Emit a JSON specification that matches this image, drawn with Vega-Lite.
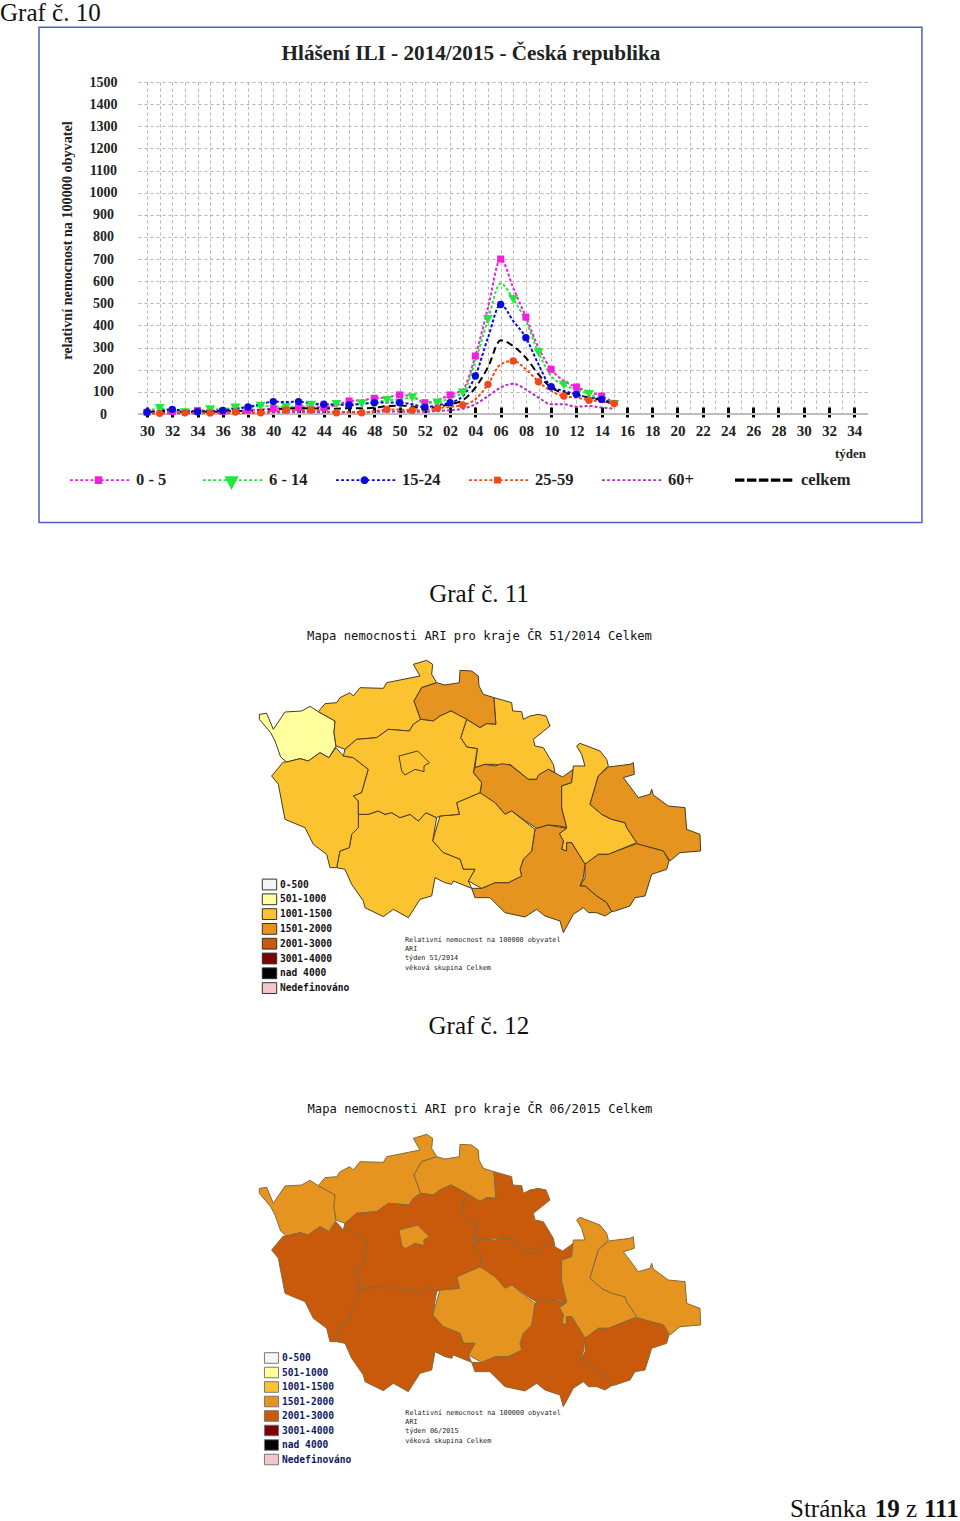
{"$schema":"https://vega.github.io/schema/vega-lite/v6.json","background":"white","padding":0,"spacing":0,"bounds":"flush","config":{"view":{"stroke":null}},"resolve":{"scale":{"color":"independent"},"legend":{"color":"independent"}},
"datasets":{"kraje":[
{"type":"Feature","properties":{"kraj":"Karlovarský","m1":"501-1000","m2":"1501-2000"},"geometry":{"type":"Polygon","coordinates":[[[28,190],[50,187],[70,235],[105,183],[155,180],[180,166],[205,182],[255,210],[252,245],[258,285],[237,320],[210,305],[175,330],[150,323],[110,333],[92,318],[75,270],[62,245],[28,205],[28,190]]]}},
{"type":"Feature","properties":{"kraj":"Ústecký","m1":"1001-1500","m2":"1501-2000"},"geometry":{"type":"Polygon","coordinates":[[[205,182],[225,158],[260,155],[270,140],[300,125],[310,135],[330,110],[400,112],[410,95],[510,75],[490,40],[530,28],[548,40],[545,70],[560,95],[515,110],[492,150],[512,205],[490,220],[478,240],[415,235],[380,260],[320,265],[285,295],[258,285],[252,245],[255,210],[205,182]]]}},
{"type":"Feature","properties":{"kraj":"Liberecký","m1":"1501-2000","m2":"1501-2000"},"geometry":{"type":"Polygon","coordinates":[[[492,150],[515,110],[560,95],[585,102],[628,95],[630,58],[665,60],[685,75],[687,105],[700,130],[732,140],[738,220],[710,218],[690,230],[650,205],[603,180],[570,195],[550,210],[512,205],[492,150]]]}},
{"type":"Feature","properties":{"kraj":"Královéhradecký","m1":"1001-1500","m2":"2001-3000"},"geometry":{"type":"Polygon","coordinates":[[[732,140],[785,155],[788,180],[815,182],[820,205],[840,195],[865,190],[888,195],[900,225],[850,265],[855,285],[880,290],[910,340],[915,365],[895,355],[865,375],[860,385],[835,385],[780,340],[755,345],[735,340],[705,340],[675,350],[682,293],[650,288],[632,260],[650,205],[690,230],[710,218],[738,220],[732,140]]]}},
{"type":"Feature","properties":{"kraj":"Pardubický","m1":"1501-2000","m2":"2001-3000"},"geometry":{"type":"Polygon","coordinates":[[[675,350],[705,340],[735,345],[755,338],[780,342],[835,385],[860,385],[865,372],[895,355],[938,378],[970,355],[965,395],[935,405],[935,470],[950,530],[928,525],[895,522],[860,532],[820,505],[785,480],[765,490],[735,455],[690,430],[695,395],[670,365],[675,350]]]}},
{"type":"Feature","properties":{"kraj":"Olomoucký","m1":"1001-1500","m2":"1501-2000"},"geometry":{"type":"Polygon","coordinates":[[[980,285],[990,277],[1050,300],[1070,325],[1075,345],[1045,375],[1020,460],[1055,490],[1085,505],[1125,515],[1130,530],[1160,575],[1100,600],[1075,610],[1045,610],[1005,640],[965,575],[950,575],[950,600],[935,595],[940,570],[928,548],[950,530],[935,470],[935,405],[965,395],[970,345],[1005,345],[995,310],[980,285]]]}},
{"type":"Feature","properties":{"kraj":"Moravskoslezský","m1":"1501-2000","m2":"1501-2000"},"geometry":{"type":"Polygon","coordinates":[[[1075,348],[1140,340],[1150,335],[1153,370],[1120,380],[1165,440],[1200,430],[1205,415],[1210,432],[1255,465],[1305,470],[1310,535],[1350,550],[1352,600],[1290,605],[1260,630],[1240,600],[1165,580],[1160,575],[1130,530],[1125,515],[1085,505],[1055,490],[1020,460],[1045,375],[1075,348]]]}},
{"type":"Feature","properties":{"kraj":"Zlínský","m1":"1501-2000","m2":"2001-3000"},"geometry":{"type":"Polygon","coordinates":[[[1005,640],[1045,610],[1075,610],[1100,600],[1160,578],[1240,600],[1257,630],[1250,655],[1205,670],[1185,735],[1155,740],[1140,765],[1095,780],[1085,782],[1070,755],[1040,735],[1005,705],[990,705],[1005,680],[1005,640]]]}},
{"type":"Feature","properties":{"kraj":"Jihomoravský","m1":"1501-2000","m2":"2001-3000"},"geometry":{"type":"Polygon","coordinates":[[[860,532],[895,522],[928,528],[950,532],[928,548],[940,570],[935,595],[950,600],[950,575],[965,575],[1005,640],[1000,680],[990,705],[1005,705],[1040,735],[1070,755],[1085,782],[1065,795],[1040,785],[1015,785],[1000,770],[970,790],[940,845],[930,810],[885,795],[860,775],[825,798],[765,785],[720,740],[675,740],[665,712],[695,712],[735,695],[775,695],[815,675],[810,655],[820,625],[845,600],[855,535],[860,532]]]}},
{"type":"Feature","properties":{"kraj":"Vysočina","m1":"1001-1500","m2":"1501-2000"},"geometry":{"type":"Polygon","coordinates":[[[690,425],[735,455],[765,490],[785,480],[855,535],[845,600],[820,625],[810,655],[815,675],[775,695],[735,695],[695,712],[655,690],[675,655],[640,655],[630,625],[580,605],[548,570],[570,495],[628,490],[620,455],[690,425]]]}},
{"type":"Feature","properties":{"kraj":"Jihočeský","m1":"1001-1500","m2":"2001-3000"},"geometry":{"type":"Polygon","coordinates":[[[325,490],[355,490],[385,480],[405,490],[425,485],[450,500],[480,490],[505,510],[528,485],[560,500],[548,570],[580,605],[630,625],[640,655],[675,655],[655,690],[665,712],[610,690],[605,700],[585,695],[555,680],[545,735],[510,745],[475,800],[430,775],[400,797],[345,770],[340,750],[305,700],[285,655],[260,650],[270,600],[298,590],[305,550],[325,530],[325,490]]]}},
{"type":"Feature","properties":{"kraj":"Plzeňský","m1":"1001-1500","m2":"2001-3000"},"geometry":{"type":"Polygon","coordinates":[[[65,375],[100,333],[110,333],[150,323],[175,330],[210,305],[237,320],[258,290],[280,315],[310,320],[355,355],[335,425],[310,435],[325,450],[325,530],[305,550],[298,590],[270,600],[260,650],[240,650],[230,610],[190,580],[165,530],[105,505],[85,400],[65,375]]]}},
{"type":"Feature","properties":{"kraj":"Středočeský","m1":"1001-1500","m2":"2001-3000"},"geometry":{"type":"Polygon","coordinates":[[[285,295],[320,265],[380,260],[415,235],[478,240],[490,220],[512,205],[550,210],[570,195],[603,180],[650,205],[632,260],[650,288],[682,293],[670,365],[695,395],[690,425],[620,455],[628,490],[570,495],[560,500],[528,485],[505,510],[480,490],[450,500],[425,485],[405,490],[385,480],[355,490],[325,490],[325,450],[310,435],[335,425],[355,355],[310,320],[280,315],[285,295]]]}},
{"type":"Feature","properties":{"kraj":"Praha","m1":"1001-1500","m2":"1501-2000"},"geometry":{"type":"Polygon","coordinates":[[[447,315],[503,300],[538,335],[522,345],[522,362],[495,355],[465,372],[455,360],[447,315]]]}}
]},
"vconcat":[
{"width":730,"height":332,
"encoding":{
"x":{"field":"t","type":"quantitative","scale":{"domain":[-0.713,57.09],"nice":false,"zero":false},
"axis":{"values":[0,1,2,3,4,5,6,7,8,9,10,11,12,13,14,15,16,17,18,19,20,21,22,23,24,25,26,27,28,29,30,31,32,33,34,35,36,37,38,39,40,41,42,43,44,45,46,47,48,49,50,51,52,53,54,55,56],"offset":-7,"grid":true,"gridDash":[3,3],"gridColor":"#b5b5b5","domain":false,"tickColor":"#000","tickWidth":3,"tickSize":10,"tickOpacity":{"condition":{"test":"datum.value%2==0","value":1},"value":0},"labelExpr":"datum.value%2==1?'':format(datum.value+30>52?datum.value-22:datum.value+30,'02d')","labelFont":"Liberation Serif","labelFontSize":15,"labelFontWeight":"bold","labelColor":"#222","labelPadding":6,"labelOverlap":false,"labelFlush":false,"labelBound":false,"title":"týden","titleFont":"Liberation Serif","titleFontSize":13,"titleFontWeight":"bold","titleColor":"#222","titleX":712,"titleY":40}},
"y":{"field":"value","type":"quantitative","scale":{"domain":[0,1500],"nice":false,"zero":false},
"axis":{"values":[0,100,200,300,400,500,600,700,800,900,1000,1100,1200,1300,1400,1500],"format":"d","grid":true,"gridDash":[3,3],"gridColor":"#b5b5b5","domain":false,"ticks":false,"labelFont":"Liberation Serif","labelFontSize":14,"labelFontWeight":"bold","labelColor":"#222","labelAlign":"center","labelPadding":35,"labelOverlap":false,"labelFlush":false,"labelBound":false,"title":"relativní nemocnost na 100000 obyvatel","titleFont":"Liberation Serif","titleFontSize":14.2,"titleFontWeight":"bold","titleColor":"#222","titleX":-71,"titleY":158,"titleAngle":-90,"titleAlign":"center","titleBaseline":"middle"}}},
"layer":[
{"data":{"values":[{"t":-8.55,"t2":61.36,"value":1747,"value2":-490}]},"mark":{"type":"rect","filled":false,"stroke":"#4a5fc8","strokeWidth":1.5},"encoding":{"x2":{"field":"t2"},"y2":{"field":"value2"}}},
{"data":{"values":[{"value":0}]},"mark":{"type":"rule","color":"#bdbdbd","strokeWidth":2},"encoding":{"x":null,"y":{"field":"value","type":"quantitative"}}},
{"data":{"values":[{"t":-11.64,"value":1866,"label":"Graf č. 10"}]},"mark":{"type":"text","font":"Liberation Serif","fontSize":25,"align":"left","baseline":"top","color":"#111"},"encoding":{"text":{"field":"label"}}},
{"data":{"values":[{"t":25.65,"value":1627,"label":"Hlášení ILI - 2014/2015 - Česká republika"}]},"mark":{"type":"text","font":"Liberation Serif","fontSize":21.2,"fontWeight":"bold","align":"center","baseline":"middle","color":"#222"},"encoding":{"text":{"field":"label"}}},
{"data":{"name":"ili","values":[
{"t":0,"0 - 5":8,"6 - 14":10,"15-24":8,"25-59":4,"60+":2,"celkem":10},
{"t":1,"0 - 5":10,"6 - 14":26,"15-24":14,"25-59":3,"60+":3,"celkem":10},
{"t":2,"0 - 5":12,"6 - 14":15,"15-24":21,"25-59":5,"60+":3,"celkem":11},
{"t":3,"0 - 5":13,"6 - 14":6,"15-24":15,"25-59":6,"60+":3,"celkem":10},
{"t":4,"0 - 5":15,"6 - 14":14,"15-24":10,"25-59":6,"60+":4,"celkem":11},
{"t":5,"0 - 5":14,"6 - 14":20,"15-24":12,"25-59":5,"60+":4,"celkem":10},
{"t":6,"0 - 5":12,"6 - 14":22,"15-24":16,"25-59":7,"60+":4,"celkem":11},
{"t":7,"0 - 5":14,"6 - 14":28,"15-24":24,"25-59":9,"60+":5,"celkem":13},
{"t":8,"0 - 5":18,"6 - 14":30,"15-24":32,"25-59":8,"60+":5,"celkem":14},
{"t":9,"0 - 5":20,"6 - 14":36,"15-24":44,"25-59":6,"60+":6,"celkem":17},
{"t":10,"0 - 5":24,"6 - 14":34,"15-24":56,"25-59":12,"60+":8,"celkem":21},
{"t":11,"0 - 5":28,"6 - 14":30,"15-24":54,"25-59":18,"60+":8,"celkem":24},
{"t":12,"0 - 5":30,"6 - 14":36,"15-24":56,"25-59":18,"60+":9,"celkem":26},
{"t":13,"0 - 5":30,"6 - 14":40,"15-24":48,"25-59":18,"60+":9,"celkem":25},
{"t":14,"0 - 5":30,"6 - 14":42,"15-24":44,"25-59":14,"60+":8,"celkem":25},
{"t":15,"0 - 5":40,"6 - 14":44,"15-24":42,"25-59":6,"60+":9,"celkem":24},
{"t":16,"0 - 5":59,"6 - 14":44,"15-24":41,"25-59":8,"60+":9,"celkem":26},
{"t":17,"0 - 5":62,"6 - 14":46,"15-24":46,"25-59":6,"60+":9,"celkem":26},
{"t":18,"0 - 5":71,"6 - 14":52,"15-24":51,"25-59":12,"60+":10,"celkem":28},
{"t":19,"0 - 5":74,"6 - 14":62,"15-24":52,"25-59":21,"60+":11,"celkem":36},
{"t":20,"0 - 5":86,"6 - 14":66,"15-24":51,"25-59":20,"60+":11,"celkem":38},
{"t":21,"0 - 5":80,"6 - 14":74,"15-24":44,"25-59":17,"60+":10,"celkem":34},
{"t":22,"0 - 5":51,"6 - 14":50,"15-24":30,"25-59":18,"60+":10,"celkem":21},
{"t":23,"0 - 5":64,"6 - 14":51,"15-24":40,"25-59":26,"60+":14,"celkem":33},
{"t":24,"0 - 5":86,"6 - 14":74,"15-24":51,"25-59":32,"60+":17,"celkem":44},
{"t":25,"0 - 5":111,"6 - 14":96,"15-24":81,"25-59":41,"60+":24,"celkem":62},
{"t":26,"0 - 5":262,"6 - 14":240,"15-24":172,"25-59":66,"60+":44,"celkem":119},
{"t":27,"0 - 5":480,"6 - 14":428,"15-24":345,"25-59":134,"60+":81,"celkem":212},
{"t":28,"0 - 5":700,"6 - 14":590,"15-24":495,"25-59":224,"60+":119,"celkem":333},
{"t":29,"0 - 5":570,"6 - 14":518,"15-24":420,"25-59":240,"60+":137,"celkem":307},
{"t":30,"0 - 5":438,"6 - 14":420,"15-24":345,"25-59":202,"60+":111,"celkem":254},
{"t":31,"0 - 5":300,"6 - 14":277,"15-24":224,"25-59":146,"60+":74,"celkem":179},
{"t":32,"0 - 5":202,"6 - 14":172,"15-24":123,"25-59":104,"60+":44,"celkem":119},
{"t":33,"0 - 5":150,"6 - 14":131,"15-24":104,"25-59":81,"60+":44,"celkem":96},
{"t":34,"0 - 5":122,"6 - 14":111,"15-24":89,"25-59":74,"60+":33,"celkem":86},
{"t":35,"0 - 5":100,"6 - 14":89,"15-24":74,"25-59":62,"60+":36,"celkem":74},
{"t":36,"0 - 5":81,"6 - 14":66,"15-24":66,"25-59":56,"60+":29,"celkem":62},
{"t":37,"0 - 5":51,"6 - 14":44,"15-24":44,"25-59":48,"60+":24,"celkem":44}
]},
"transform":[{"fold":["0 - 5","6 - 14","15-24","60+","celkem","25-59"],"as":["series","value"]}],
"layer":[
{"mark":{"type":"line","interpolate":"monotone"},"encoding":{
"color":{"field":"series","type":"nominal","scale":{"domain":["0 - 5","6 - 14","15-24","25-59","60+","celkem"],"range":["#F020E0","#22E83A","#0A0ADC","#F0481A","#B030C0","#000000"]},
"legend":{"title":null,"orient":"none","legendX":-68,"legendY":369.5,"direction":"horizontal","columns":6,"gridAlign":"all","columnPadding":17,"symbolSize":3249,"labelOffset":9,"labelFont":"Liberation Serif","labelFontSize":16.5,"labelFontWeight":"bold","labelColor":"#222",
"encode":{"symbols":{"update":{
"fill":{"signal":"{'0 - 5':'#F020E0','6 - 14':'#22E83A','15-24':'#0A0ADC','25-59':'#F0481A','60+':'#B030C0','celkem':'#000000'}[datum.value]"},
"stroke":{"value":"transparent"},"strokeWidth":{"value":0},"strokeOpacity":{"value":0},"strokeDash":{"value":[]},
"shape":{"signal":"{'0 - 5':'M-1,-.035h.1v.07h-.1zm.18,0h.1v.07h-.1zm.18,0h.1v.07h-.1zm.18,0h.1v.07h-.1zm.18,0h.1v.07h-.1zm.18,0h.1v.07h-.1zm.18,0h.1v.07h-.1zm.18,0h.1v.07h-.1zm.18,0h.1v.07h-.1zm.18,0h.1v.07h-.1zm.18,0h.1v.07h-.1zm.18,0h.1v.07h-.1zM-.13,-.14h.26v.28h-.26zM0,-.5l0,1z','6 - 14':'M-1,-.035h.1v.07h-.1zm.18,0h.1v.07h-.1zm.18,0h.1v.07h-.1zm.18,0h.1v.07h-.1zm.18,0h.1v.07h-.1zm.18,0h.1v.07h-.1zm.18,0h.1v.07h-.1zm.18,0h.1v.07h-.1zm.18,0h.1v.07h-.1zm.18,0h.1v.07h-.1zm.18,0h.1v.07h-.1zm.18,0h.1v.07h-.1zM-.25,-.14h.5l-.25,.49zM0,-.5l0,1z','15-24':'M-1,-.035h.1v.07h-.1zm.18,0h.1v.07h-.1zm.18,0h.1v.07h-.1zm.18,0h.1v.07h-.1zm.18,0h.1v.07h-.1zm.18,0h.1v.07h-.1zm.18,0h.1v.07h-.1zm.18,0h.1v.07h-.1zm.18,0h.1v.07h-.1zm.18,0h.1v.07h-.1zm.18,0h.1v.07h-.1zm.18,0h.1v.07h-.1zM-.14,0a.14,.14 0 1,1 .28,0a.14,.14 0 1,1 -.28,0zM0,-.5l0,1z','25-59':'M-1,-.035h.1v.07h-.1zm.18,0h.1v.07h-.1zm.18,0h.1v.07h-.1zm.18,0h.1v.07h-.1zm.18,0h.1v.07h-.1zm.18,0h.1v.07h-.1zm.18,0h.1v.07h-.1zm.18,0h.1v.07h-.1zm.18,0h.1v.07h-.1zm.18,0h.1v.07h-.1zm.18,0h.1v.07h-.1zm.18,0h.1v.07h-.1zM-.12,-.12h.24v.24h-.24zM0,-.5l0,1z','60+':'M-1,-.035h.1v.07h-.1zm.18,0h.1v.07h-.1zm.18,0h.1v.07h-.1zm.18,0h.1v.07h-.1zm.18,0h.1v.07h-.1zm.18,0h.1v.07h-.1zm.18,0h.1v.07h-.1zm.18,0h.1v.07h-.1zm.18,0h.1v.07h-.1zm.18,0h.1v.07h-.1zm.18,0h.1v.07h-.1zm.18,0h.1v.07h-.1zM0,-.5l0,1z','celkem':'M-1,-.055h.33v.11h-.33zm.42,0h.33v.11h-.33zm.42,0h.33v.11h-.33zm.42,0h.33v.11h-.33zm.42,0h.33v.11h-.33zM0,-.5l0,1z'}[datum.value]"}
}}}}},
"strokeDash":{"field":"series","type":"nominal","scale":{"domain":["0 - 5","6 - 14","15-24","25-59","60+","celkem"],"range":[[3,2],[3,2],[3,2],[3,2],[3,2],[7,4]]},"legend":null},
"strokeWidth":{"field":"series","type":"nominal","scale":{"domain":["0 - 5","6 - 14","15-24","25-59","60+","celkem"],"range":[2,2,2,2,2,3.4]},"legend":null}
}},
{"transform":[{"filter":"datum.series=='0 - 5'&&datum.t%2==0"}],"mark":{"type":"point","shape":"square","filled":true,"opacity":1,"size":50},"encoding":{"color":{"field":"series","type":"nominal","legend":null}}},
{"transform":[{"filter":"datum.series=='6 - 14'&&datum.t%2==1"}],"mark":{"type":"point","shape":"triangle-down","filled":true,"opacity":1,"size":100},"encoding":{"color":{"field":"series","type":"nominal","legend":null}}},
{"transform":[{"filter":"datum.series=='15-24'&&datum.t%2==0"}],"mark":{"type":"point","shape":"circle","filled":true,"opacity":1,"size":55},"encoding":{"color":{"field":"series","type":"nominal","legend":null}}},
{"transform":[{"filter":"datum.series=='25-59'&&datum.t%2==1"}],"mark":{"type":"point","shape":"circle","filled":true,"opacity":1,"size":55},"encoding":{"color":{"field":"series","type":"nominal","legend":null}}}
]}
]},
{"width":730,"height":474,"projection":{"type":"identity","scale":0.33333,"translate":[112,237]},
"layer":[
{"data":{"name":"kraje"},"mark":{"type":"geoshape","clip":false,"stroke":"#4a3a20","strokeWidth":1},"encoding":{"color":{"field":"properties.m1","type":"nominal","scale":{"domain":["0-500","501-1000","1001-1500","1501-2000","2001-3000","3001-4000","nad 4000","Nedefinováno"],"range":["#F5F5F5","#FFFF9E","#FBC330","#E5951F","#C95A0B","#7F0000","#000000","#F4C6CC"]},"legend":{"title":null,"orient":"none","legendX":125,"legendY":464,"symbolType":"M-1.2,-.9H1.2V.9H-1.2Z","symbolSize":144,"symbolStrokeColor":"#333","symbolStrokeWidth":1,"symbolOpacity":1,"rowPadding":-0.2,"labelOffset":4,"labelFont":"DejaVu Sans Mono","labelFontSize":9.6,"labelFontWeight":"bold","labelColor":"#111"}}}},
{"data":{"values":[{"lon":688.5,"lat":-45,"label":"Mapa nemocnosti ARI pro kraje ČR 51/2014 Celkem"}]},"mark":{"type":"text","clip":false,"font":"DejaVu Sans Mono","fontSize":12.2,"align":"center","baseline":"middle","color":"#111"},"encoding":{"longitude":{"field":"lon","type":"quantitative"},"latitude":{"field":"lat","type":"quantitative"},"text":{"field":"label"}}},
{"data":{"values":[{"lon":465,"lat":867,"label":"Relativní nemocnost na 100000 obyvatel"},{"lon":465,"lat":894,"label":"ARI"},{"lon":465,"lat":921,"label":"týden 51/2014"},{"lon":465,"lat":951,"label":"věková skupina Celkem"}]},"mark":{"type":"text","clip":false,"font":"DejaVu Sans Mono","fontSize":6.8,"align":"left","baseline":"middle","color":"#222"},"encoding":{"longitude":{"field":"lon","type":"quantitative"},"latitude":{"field":"lat","type":"quantitative"},"text":{"field":"label"}}},
{"data":{"values":[{"lon":687,"lat":-171,"label":"Graf č. 11"}]},"mark":{"type":"text","clip":false,"font":"Liberation Serif","fontSize":25,"align":"center","baseline":"middle","color":"#111"},"encoding":{"longitude":{"field":"lon","type":"quantitative"},"latitude":{"field":"lat","type":"quantitative"},"text":{"field":"label"}}}
]},
{"width":822,"height":634,"projection":{"type":"identity","scale":0.331,"translate":[113.7,237.7]},
"layer":[
{"data":{"name":"kraje"},"mark":{"type":"geoshape","clip":false,"stroke":"#86693a","strokeWidth":1},"encoding":{"color":{"field":"properties.m2","type":"nominal","scale":{"domain":["0-500","501-1000","1001-1500","1501-2000","2001-3000","3001-4000","nad 4000","Nedefinováno"],"range":["#F5F5F5","#FFFF9E","#FBC330","#E5951F","#C95A0B","#7F0000","#000000","#F4C6CC"]},"legend":{"title":null,"orient":"none","legendX":127,"legendY":463.5,"symbolType":"M-1.2,-.9H1.2V.9H-1.2Z","symbolSize":138,"symbolStrokeColor":"#777","symbolStrokeWidth":1,"symbolOpacity":1,"rowPadding":-0.5,"labelOffset":4,"labelFont":"DejaVu Sans Mono","labelFontSize":9.6,"labelFontWeight":"bold","labelColor":"#101a60"}}}},
{"data":{"values":[{"lon":689.7,"lat":-47.4,"label":"Mapa nemocnosti ARI pro kraje ČR 06/2015 Celkem"}]},"mark":{"type":"text","clip":false,"font":"DejaVu Sans Mono","fontSize":12.2,"align":"center","baseline":"middle","color":"#111"},"encoding":{"longitude":{"field":"lon","type":"quantitative"},"latitude":{"field":"lat","type":"quantitative"},"text":{"field":"label"}}},
{"data":{"values":[{"lon":466,"lat":865,"label":"Relativní nemocnost na 100000 obyvatel"},{"lon":466,"lat":892,"label":"ARI"},{"lon":466,"lat":919,"label":"týden 06/2015"},{"lon":466,"lat":947,"label":"věková skupina Celkem"}]},"mark":{"type":"text","clip":false,"font":"DejaVu Sans Mono","fontSize":6.8,"align":"left","baseline":"middle","color":"#222"},"encoding":{"longitude":{"field":"lon","type":"quantitative"},"latitude":{"field":"lat","type":"quantitative"},"text":{"field":"label"}}},
{"data":{"values":[{"lon":686.7,"lat":-298,"label":"Graf č. 12"}]},"mark":{"type":"text","clip":false,"font":"Liberation Serif","fontSize":25,"align":"center","baseline":"middle","color":"#111"},"encoding":{"longitude":{"field":"lon","type":"quantitative"},"latitude":{"field":"lat","type":"quantitative"},"text":{"field":"label"}}},
{"data":{"values":[{"lon":1620,"lat":1152,"label":"Stránka"},{"lon":1968,"lat":1152,"label":"z"}]},"mark":{"type":"text","clip":false,"font":"Liberation Serif","fontSize":25,"align":"left","baseline":"middle","color":"#111"},"encoding":{"longitude":{"field":"lon","type":"quantitative"},"latitude":{"field":"lat","type":"quantitative"},"text":{"field":"label"}}},
{"data":{"values":[{"lon":1874,"lat":1152,"label":"19"},{"lon":2022,"lat":1152,"label":"111"}]},"mark":{"type":"text","clip":false,"font":"Liberation Serif","fontSize":25,"fontWeight":"bold","align":"left","baseline":"middle","color":"#111"},"encoding":{"longitude":{"field":"lon","type":"quantitative"},"latitude":{"field":"lat","type":"quantitative"},"text":{"field":"label"}}}
]}
]}
